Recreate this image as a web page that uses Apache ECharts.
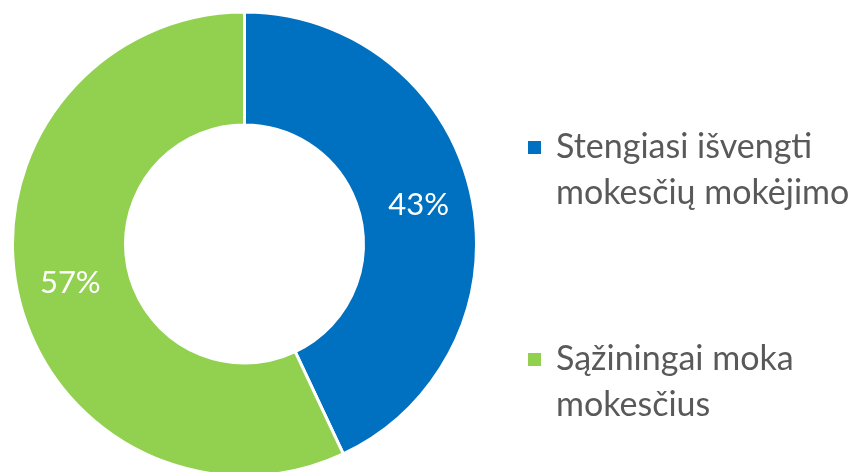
<!DOCTYPE html>
<html>
<head>
<meta charset="utf-8">
<script src="https://cdn.jsdelivr.net/npm/echarts@6/dist/echarts.min.js"></script>
<style>
html,body{margin:0;padding:0;background:#fff;}
#chart{width:858px;height:472px;}
</style>
</head>
<body>
<div id="chart"></div>
<script>
const categories = ['Stengiasi išvengti mokesčių mokėjimo', 'Sąžiningai moka mokesčius'];
const legendLines = [['Stengiasi išvengti', 'mokesčių mokėjimo'], ['Sąžiningai moka', 'mokesčius']];
const values = [43, 57];
const colors = ['#0070C0', '#92D050'];

const FONT = 'Lato, "Open Sans", sans-serif';
// legend marker: 13px square aligned to the first text line
const LEGEND_ICON = 'path://M0,0h13v13h-13Z M23,59h0.01v0.01h-0.01Z';
const legendTops = [124.5, 336.5];

function makeLegend(i) {
  return {
    orient: 'vertical',
    left: 528,
    top: legendTops[i],
    padding: 0,
    itemWidth: 23,
    itemHeight: 59,
    icon: LEGEND_ICON,
    itemStyle: {borderWidth: 0},
    data: [categories[i]],
    formatter: function (name) {
      return legendLines[categories.indexOf(name)].join('\n');
    },
    textStyle: {
      fontFamily: FONT,
      fontSize: 34,
      color: '#595959',
      lineHeight: 46
    }
  };
}

const chart = echarts.init(document.getElementById('chart'), null, {renderer: 'canvas'});
chart.setOption({
  animation: false,
  color: colors,
  legend: [makeLegend(0), makeLegend(1)],
  series: [{
    type: 'pie',
    center: [244.5, 244],
    radius: [119, 232],
    startAngle: 90,
    clockwise: true,
    avoidLabelOverlap: false,
    itemStyle: {borderColor: '#fff', borderWidth: 3},
    label: {
      show: true,
      position: 'inside',
      formatter: '{d}%',
      color: '#fff',
      fontFamily: FONT,
      fontSize: 31
    },
    labelLine: {show: false},
    emphasis: {disabled: true},
    data: categories.map((c, i) => ({name: c, value: values[i]}))
  }]
});
</script>
</body>
</html>
